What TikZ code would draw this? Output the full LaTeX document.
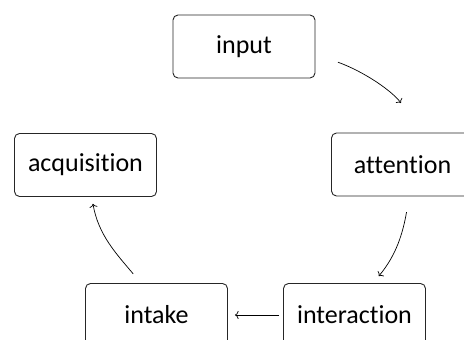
\documentclass[tikz,border=0pt]{standalone}
\usepackage{fontspec}
\setmainfont{Carlito}[Ligatures={NoCommon,NoContextual}]
\usetikzlibrary{arrows.meta}

\begin{document}
\begin{tikzpicture}[
    x=1pt, y=1pt,
    font=\fontsize{26pt}{30pt}\selectfont,
    stage/.style={draw=black!85, fill=white, rounded corners=5pt,
                  line width=0.9pt, minimum width=142pt, minimum height=63pt,
                  inner sep=0pt},
    cyc/.style={-{To[length=3.6pt,width=8pt]}, black, line width=0.7pt}
]

\useasboundingbox (0,0) rectangle (464,340);
\clip (0,0) rectangle (464,340);

\node[stage] (input)       at (244.0,293.5) {input};
\node[stage] (attention)   at (402.5,175.5) {attention};
\node[stage] (interaction) at (354.5,25.0)  {interaction};
\node[stage] (intake)      at (156.5,25.0)  {intake};
\node[stage] (acquisition) at (85.5,175.0)  {acquisition};

% curved arrows round the cycle
\draw[cyc, shorten <=24pt, shorten >=37pt]
    (input.-6) to[out=-20, in=127] (attention.57);
\draw[cyc, shorten <=16pt, shorten >=9pt]
    (attention.-78) to[out=-100, in=50] (interaction.60);
\draw[cyc, shorten <=4pt, shorten >=7pt]
    (interaction) -- (intake);
\draw[cyc, shorten <=12pt, shorten >=7pt]
    (intake.116) to[out=130, in=-80] (acquisition.-79);

\end{tikzpicture}
\end{document}
